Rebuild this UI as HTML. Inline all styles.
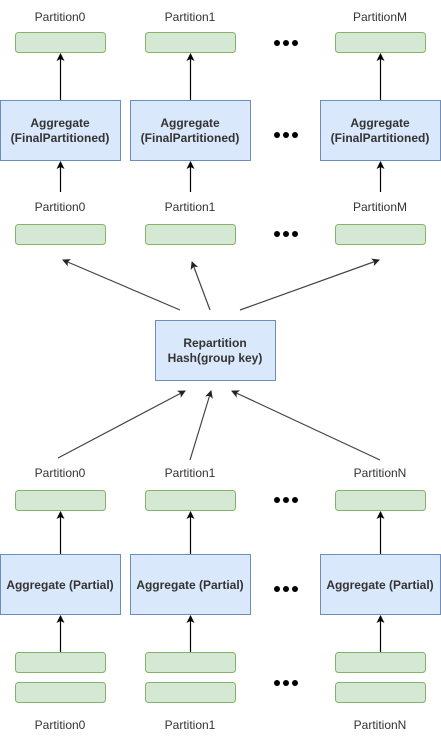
<!DOCTYPE html>
<html><head><style>body{margin:0;background:#fff}svg{display:block}text{font-family:"Liberation Sans",sans-serif;font-size:12px;fill:#333}</style></head><body>
<svg width="441" height="740" xmlns="http://www.w3.org/2000/svg">
<defs><marker id="a" markerWidth="10" markerHeight="10" refX="7" refY="4" orient="auto" markerUnits="userSpaceOnUse"><path d="M0,0 L8,4 L0,8 L2,4 Z" fill="#000"/></marker>
<marker id="b" markerWidth="10" markerHeight="10" refX="7" refY="4" orient="auto" markerUnits="userSpaceOnUse"><path d="M0,0 L8,4 L0,8 L2,4 Z" fill="#222"/></marker></defs>
<g fill="#d5e8d4" stroke="#82b366">
<rect x="15.5" y="32.5" width="90" height="20" rx="3"/><rect x="145.5" y="32.5" width="90" height="20" rx="3"/><rect x="335.5" y="32.5" width="90" height="20" rx="3"/>
<rect x="15.5" y="224.5" width="90" height="20" rx="3"/><rect x="145.5" y="224.5" width="90" height="20" rx="3"/><rect x="335.5" y="224.5" width="90" height="20" rx="3"/>
<rect x="15.5" y="490.5" width="90" height="20" rx="3"/><rect x="145.5" y="490.5" width="90" height="20" rx="3"/><rect x="335.5" y="490.5" width="90" height="20" rx="3"/>
<rect x="15.5" y="652.5" width="90" height="20" rx="3"/><rect x="145.5" y="652.5" width="90" height="20" rx="3"/><rect x="335.5" y="652.5" width="90" height="20" rx="3"/>
<rect x="15.5" y="682.5" width="90" height="20" rx="3"/><rect x="145.5" y="682.5" width="90" height="20" rx="3"/><rect x="335.5" y="682.5" width="90" height="20" rx="3"/>
</g>
<g fill="#dae8fc" stroke="#6c8ebf">
<rect x="0.5" y="100.5" width="120" height="60"/><rect x="130.5" y="100.5" width="120" height="60"/><rect x="320.5" y="100.5" width="120" height="60"/>
<rect x="155.5" y="320.5" width="120" height="60"/>
<rect x="0.5" y="554.5" width="120" height="60"/><rect x="130.5" y="554.5" width="120" height="60"/><rect x="320.5" y="554.5" width="120" height="60"/>
</g>
<g stroke="#000" stroke-width="1.2" marker-end="url(#a)">
<line x1="60.5" y1="100" x2="60.5" y2="54"/><line x1="190.5" y1="100" x2="190.5" y2="54"/><line x1="380.5" y1="100" x2="380.5" y2="54"/>
<line x1="60.5" y1="192" x2="60.5" y2="162"/><line x1="190.5" y1="192" x2="190.5" y2="162"/><line x1="380.5" y1="192" x2="380.5" y2="162"/>
<line x1="60.5" y1="554" x2="60.5" y2="512"/><line x1="190.5" y1="554" x2="190.5" y2="512"/><line x1="380.5" y1="554" x2="380.5" y2="512"/>
<line x1="60.5" y1="652" x2="60.5" y2="616"/><line x1="190.5" y1="652" x2="190.5" y2="616"/><line x1="380.5" y1="652" x2="380.5" y2="616"/>
</g>
<g stroke="#444" stroke-width="1.2" marker-end="url(#b)">
<line x1="180" y1="310" x2="63" y2="260"/><line x1="210" y1="310" x2="192" y2="262"/><line x1="240" y1="310" x2="379" y2="260"/>
<line x1="58" y1="458" x2="185" y2="391"/><line x1="190" y1="460" x2="211" y2="391"/><line x1="380" y1="460" x2="232" y2="391"/>
</g>
<g text-anchor="middle">
<text x="60" y="21">Partition0</text><text x="190" y="21">Partition1</text><text x="380" y="21">PartitionM</text>
<text x="60" y="211">Partition0</text><text x="190" y="211">Partition1</text><text x="380" y="211">PartitionM</text>
<text x="60" y="477">Partition0</text><text x="190" y="477">Partition1</text><text x="380" y="477">PartitionN</text>
<text x="60" y="729">Partition0</text><text x="190" y="729">Partition1</text><text x="380" y="729">PartitionN</text>
<g style="font-weight:bold">
<text x="60" y="127">Aggregate</text><text x="60" y="142">(FinalPartitioned)</text>
<text x="190" y="127">Aggregate</text><text x="190" y="142">(FinalPartitioned)</text>
<text x="380" y="127">Aggregate</text><text x="380" y="142">(FinalPartitioned)</text>
<text x="215" y="347">Repartition</text><text x="215" y="362">Hash(group key)</text>
<text x="60" y="589">Aggregate (Partial)</text><text x="190" y="589">Aggregate (Partial)</text><text x="380" y="589">Aggregate (Partial)</text>
</g>
</g>
<g fill="#000">
<circle cx="277" cy="43" r="3"/><circle cx="286" cy="43" r="3"/><circle cx="295" cy="43" r="3"/>
<circle cx="277" cy="135" r="3"/><circle cx="286" cy="135" r="3"/><circle cx="295" cy="135" r="3"/>
<circle cx="277" cy="234" r="3"/><circle cx="286" cy="234" r="3"/><circle cx="295" cy="234" r="3"/>
<circle cx="277" cy="500" r="3"/><circle cx="286" cy="500" r="3"/><circle cx="295" cy="500" r="3"/>
<circle cx="277" cy="589" r="3"/><circle cx="286" cy="589" r="3"/><circle cx="295" cy="589" r="3"/>
<circle cx="277" cy="683" r="3"/><circle cx="286" cy="683" r="3"/><circle cx="295" cy="683" r="3"/>
</g>
</svg>
</body></html>
